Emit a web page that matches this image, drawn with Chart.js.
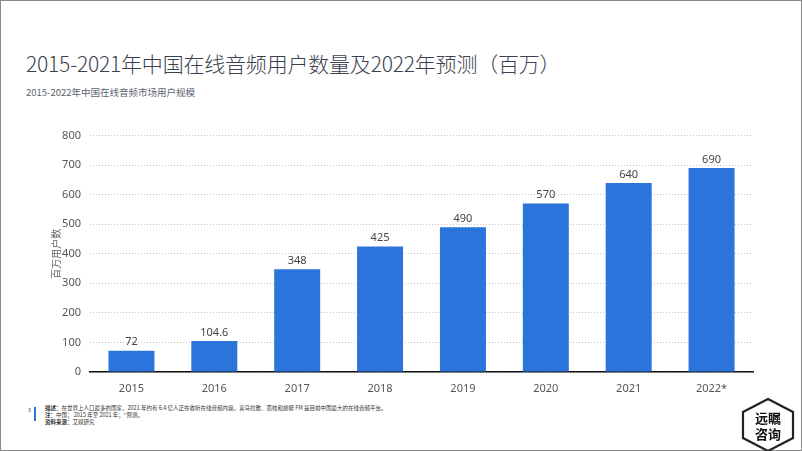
<!DOCTYPE html>
<html>
<head>
<meta charset="utf-8">
<script src="https://cdn.jsdelivr.net/npm/chart.js@4"></script>
<style>
  html, body { margin: 0; padding: 0; }
  body { width: 802px; height: 451px; position: relative; overflow: hidden; background: #fff;
         font-family: "Noto Sans", "Noto Sans CJK SC", sans-serif; }
  #frame { position: absolute; left: 0; top: 0; width: 800px; height: 449px; border: 1px solid #8a8a8a; }
  #title { position: absolute; left: 26px; top: 48px; font-size: 21px; color: #3b4150; font-weight: 300;
           font-family: "Noto Sans CJK SC", "Noto Sans", sans-serif; letter-spacing: -0.2px; white-space: nowrap; }
  #subtitle { position: absolute; left: 26px; top: 85px; font-size: 9.5px; color: #5d6470;
              font-family: "Noto Sans CJK SC", sans-serif; white-space: nowrap; }
  #chartBox { position: absolute; left: 40px; top: 120px; width: 720px; height: 280px; }
  #pageNo { position: absolute; left: 28px; top: 407px; font-size: 5px; color: #333; }
  #bluebar { position: absolute; left: 34px; top: 407px; width: 2px; height: 14px; background: #2a74db; }
  #notes { position: absolute; left: 45px; top: 405px; font-size: 5.5px; line-height: 7px; color: #333;
           font-family: "Noto Sans CJK SC", sans-serif; white-space: nowrap; }
  #notes b { font-weight: 700; }
  #logo { position: absolute; left: 741px; top: 397px; width: 54px; height: 56px; }
</style>
</head>
<body>
<div id="frame"></div>
<div id="title">2015-2021年中国在线音频用户数量及2022年预测（百万）</div>
<div id="subtitle">2015-2022年中国在线音频市场用户规模</div>
<div id="chartBox"><canvas id="myChart"></canvas></div>
<div id="pageNo">3</div>
<div id="bluebar"></div>
<div id="notes">
  <div><b>描述：</b>在世界上人口最多的国家，2021 年约有 6.4 亿人正在收听在线音频内容。喜马拉雅、荔枝和蜻蜓 FM 是目前中国最大的在线音频平台。</div>
  <div><b>注：</b>中国； 2015 年至 2021 年；*预测。</div>
  <div><b>资料来源：</b>艾媒研究</div>
</div>
<svg id="logo" viewBox="0 0 54 56">
  <polygon points="27,2 52,15 52,41 27,54 2,41 2,15" fill="#fff" stroke="#222" stroke-width="2.2"/>
  <text x="27" y="26" text-anchor="middle" font-size="13" font-weight="700" font-family="Noto Sans CJK SC" fill="#111">远瞩</text>
  <text x="27" y="42" text-anchor="middle" font-size="13" font-weight="700" font-family="Noto Sans CJK SC" fill="#111">咨询</text>
</svg>

<script>
const ctx = document.getElementById('myChart');
const barColor = '#2a74db';

const years = ['2015', '2016', '2017', '2018', '2019', '2020', '2021', '2022*'];
const users = [72, 104.6, 348, 425, 490, 570, 640, 690];
const yTicks = [0, 100, 200, 300, 400, 500, 600, 700, 800];

// value labels above bars
const barLabels = {
  id: 'barLabels',
  afterDatasetsDraw(chart) {
    const c = chart.ctx;
    const meta = chart.getDatasetMeta(0);
    c.save();
    c.font = '11px "Noto Sans", sans-serif';
    c.fillStyle = '#444';
    c.textAlign = 'center';
    c.textBaseline = 'bottom';
    meta.data.forEach((bar, i) => {
      c.fillText(String(users[i]), bar.x, bar.y - 3);
    });
    c.restore();
  }
};

new Chart(ctx, {
  type: 'bar',
  data: {
    labels: years,
    datasets: [{
      data: users,
      backgroundColor: barColor,
      categoryPercentage: 1,
      barPercentage: 0.555
    }]
  },
  options: {
    responsive: true,
    maintainAspectRatio: false,
    animation: false,
    layout: { padding: { top: 7, right: 7, left: 10, bottom: 0 } },
    plugins: {
      legend: { display: false },
      tooltip: { enabled: false }
    },
    scales: {
      x: {
        grid: { display: false },
        border: { color: '#111', width: 1.5 },
        ticks: { color: '#555', font: { size: 11, family: '"Noto Sans", sans-serif' }, padding: 2 },
        afterFit: s => { s.height = 28; }
      },
      y: {
        min: 0,
        max: 800,
        afterBuildTicks: s => { s.ticks = yTicks.map(v => ({ value: v })); },
        grid: { color: '#c4c4c4', lineWidth: 1, tickLength: 0 },
        border: { display: false, dash: [1, 2] },
        ticks: { color: '#555', font: { size: 11, family: '"Noto Sans", sans-serif' }, padding: 9 },
        title: {
          display: true,
          text: '百万用户数',
          color: '#666',
          font: { size: 10, family: '"Noto Sans CJK SC", serif' },
          padding: 0
        },
        afterFit: s => { s.width = 40; }
      }
    }
  },
  plugins: [barLabels]
});
</script>
</body>
</html>
